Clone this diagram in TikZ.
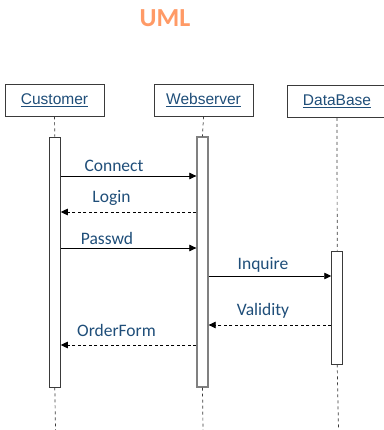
\documentclass[tikz,border=0pt]{standalone}
\usepackage{fontspec}
\setmainfont{Carlito}
\newfontfamily\arialfont{Liberation Sans}
\usetikzlibrary{arrows.meta}
\definecolor{titleorange}{HTML}{FF9A66}
\definecolor{msgblue}{HTML}{1F4E79}
\definecolor{linegray}{HTML}{3A3A3A}
\begin{document}
\begin{tikzpicture}[x=1pt,y=-1pt,
  actor/.style={draw=linegray, line width=0.9pt, fill=white, minimum width=99pt,
    minimum height=32pt, inner sep=0pt, font=\arialfont\fontsize{15.5}{17}\selectfont, text=msgblue},
  activation/.style={draw=linegray, line width=0.9pt, fill=white, minimum width=11pt, inner sep=0pt},
  lifeline/.style={draw=linegray, line width=0.7pt, dash pattern=on 3pt off 3pt},
  call/.style={draw=black, line width=0.7pt, -{Triangle[length=7pt,width=6.5pt]}},
  reply/.style={call, dash pattern=on 3pt off 2.5pt},
  msglabel/.style={font=\fontsize{17.5}{19}\selectfont, text=msgblue, inner sep=0pt}]
\useasboundingbox[fill=white] (0,0) rectangle (383,430);

% title
\node[font=\bfseries\fontsize{26}{28}\selectfont, text=titleorange] (title) at (165,18) {UML};

% objects
\node[actor] (cust) at (54.5,100) {\underline{Customer}};
\node[actor] (web) at (203.5,100) {\underline{Webserver}};
\node[actor] (db) at (337,101.5) {\underline{DataBase}};

% activation bars
\node[activation, minimum height=250pt] (custact) at (54.8,262) {};
\node[activation, draw=gray, line width=1.3pt, minimum height=250pt] (webact) at (202.5,262) {};
\node[activation, minimum height=113pt] (dbact) at (337.2,307.5) {};

% lifelines
\coordinate (custend) at (55.5,430);
\coordinate (webend) at (203,430);
\coordinate (dbend) at (338.5,430);
\draw[lifeline] (cust.south) -- (custact.north);
\draw[lifeline] (web.south) -- (webact.north);
\draw[lifeline] (db.south) -- (dbact.north);
\draw[lifeline] (custact.south) -- (custend);
\draw[lifeline] (webact.south) -- (webend);
\draw[lifeline] (dbact.south) -- (dbend);

% messages
\draw[call] (custact.east |- 0,176) -- (webact.west |- 0,176);
\node[msglabel] (lconnect) at (114,166) {Connect};
\draw[reply] (webact.west |- 0,212) -- (custact.east |- 0,212);
\node[msglabel] (llogin) at (111.5,198) {Login};
\draw[call] (custact.east |- 0,248) -- (webact.west |- 0,248);
\node[msglabel] (lpasswd) at (107,238) {Passwd};
\draw[call] (webact.east |- 0,276) -- (dbact.west |- 0,276);
\node[msglabel] (linquire) at (263,265) {Inquire};
\draw[reply] (dbact.west |- 0,325) -- (webact.east |- 0,325);
\node[msglabel] (lvalidity) at (263,310.5) {Validity};
\draw[reply] (webact.west |- 0,345) -- (custact.east |- 0,345);
\node[msglabel] (lorder) at (116.5,330) {OrderForm};
\end{tikzpicture}
\end{document}
